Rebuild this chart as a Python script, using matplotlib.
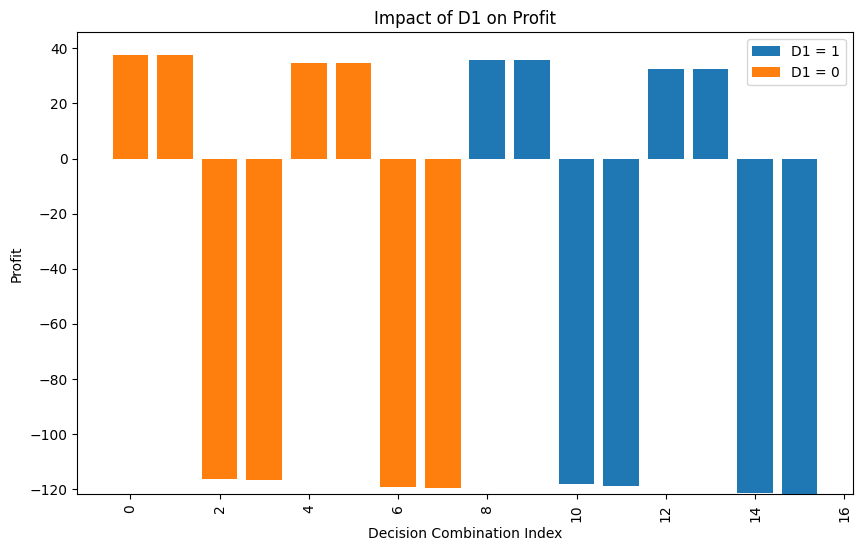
import numpy as np
import matplotlib.pyplot as plt

# decision combination index and profit
idx_d1_1 = [8, 9, 10, 11, 12, 13, 14, 15]
profit_d1_1 = [35.6, 35.6, -118.1, -118.8, 32.4, 32.4, -121.3, -121.8]
idx_d1_0 = [0, 1, 2, 3, 4, 5, 6, 7]
profit_d1_0 = [37.4, 37.4, -116.3, -116.6, 34.5, 34.5, -119.2, -119.5]

fig = plt.figure(figsize=(8.62, 5.51), dpi=100)
ax = fig.add_axes([77.3 / 862, (551 - 494.3) / 551, 775.4 / 862, 462 / 551])

ax.bar(idx_d1_1, profit_d1_1, color="#1f77b4", label="D1 = 1")
ax.bar(idx_d1_0, profit_d1_0, color="#ff7f0e", label="D1 = 0")

ax.set_ylim(min(profit_d1_1 + profit_d1_0), 45.8)
ax.set_xlabel("Decision Combination Index")
ax.set_ylabel("Profit")
ax.set_title("Impact of D1 on Profit")
ax.legend(loc="upper right")
plt.setp(ax.get_xticklabels(), rotation=90)

fig.savefig("out.png")
